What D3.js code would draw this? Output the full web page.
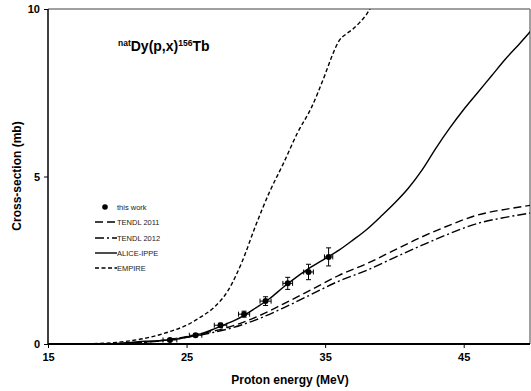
<!DOCTYPE html>
<html>
<head>
<meta charset="utf-8">
<script src="https://cdn.jsdelivr.net/npm/d3@7"></script>
<style>
  body { margin: 0; background: #fff; }
  svg { font-family: "Liberation Sans", Arial, sans-serif; }
</style>
</head>
<body>
<svg width="531" height="391"></svg>
<script>
// measured cross-sections (this work)
var expE   = [23.8, 25.65, 27.45, 29.15, 30.7, 32.3, 33.8, 35.25];
var expSig = [0.12, 0.26, 0.56, 0.89, 1.28, 1.81, 2.15, 2.6];
var expDE  = [0.5, 0.45, 0.45, 0.4, 0.4, 0.35, 0.35, 0.3];
var expDS  = [0.03, 0.04, 0.06, 0.09, 0.13, 0.18, 0.23, 0.27];

// model curves
var tendl11E   = [15, 20, 22, 24, 26, 28, 30, 32, 34, 36, 38, 40, 42, 44, 46, 48, 50];
var tendl11Sig = [0, 0.01, 0.05, 0.15, 0.3, 0.5, 0.8, 1.2, 1.62, 2.05, 2.4, 2.8, 3.2, 3.55, 3.85, 4.02, 4.15];
var tendl12E   = [15, 20, 22, 24, 26, 28, 30, 32, 34, 36, 38, 40, 42, 44, 46, 48, 50];
var tendl12Sig = [0, 0.01, 0.05, 0.14, 0.27, 0.45, 0.72, 1.08, 1.48, 1.88, 2.2, 2.58, 2.95, 3.3, 3.6, 3.78, 3.92];
var aliceE   = [15, 18, 20, 21, 22, 23, 24, 25, 26, 27, 28, 29, 30, 31, 32, 33, 34, 35, 36, 37, 38, 39, 40, 41, 42, 43, 44, 45, 46, 47, 48, 49, 50];
var aliceSig = [0, 0.005, 0.02, 0.05, 0.08, 0.1, 0.13, 0.2, 0.3, 0.45, 0.62, 0.82, 1.08, 1.36, 1.7, 2.02, 2.3, 2.55, 2.8, 3.1, 3.42, 3.8, 4.2, 4.65, 5.2, 5.85, 6.45, 7.0, 7.5, 8.0, 8.5, 8.95, 9.42];
var empireE   = [15, 18, 20, 21, 22, 23, 24, 25, 26, 27, 28, 29, 30, 31, 32, 33, 34, 35, 35.5, 36, 36.5, 37, 37.5, 38, 38.3];
var empireSig = [0, 0.01, 0.05, 0.1, 0.17, 0.27, 0.4, 0.56, 0.8, 1.1, 1.6, 2.45, 3.55, 4.55, 5.4, 6.3, 7.05, 8.05, 8.6, 9.05, 9.25, 9.4, 9.6, 9.85, 10.05];

var xTicks = [15, 25, 35, 45];
var yTicks = [0, 5, 10];

var svg = d3.select("svg");
var mLeft = 48, mRight = 533, mTop = 9, mBottom = 344, edge = 530;

var x = d3.scaleLinear().domain([15, 50]).range([mLeft, mRight]);
var y = d3.scaleLinear().domain([0, 10]).range([mBottom, mTop]);

svg.append("defs").append("clipPath").attr("id", "plotclip")
    .append("rect").attr("x", mLeft).attr("y", mTop)
    .attr("width", edge - mLeft).attr("height", mBottom - mTop);

// frame: top and right in grey
svg.append("line").attr("x1", mLeft).attr("x2", edge).attr("y1", mTop).attr("y2", mTop)
    .attr("stroke", "#808080").attr("stroke-width", 1.5);
svg.append("line").attr("x1", edge).attr("x2", edge).attr("y1", mTop).attr("y2", mBottom)
    .attr("stroke", "#808080").attr("stroke-width", 1.5);

// axes
var xAxis = svg.append("g").attr("transform", "translate(0," + mBottom + ")")
    .call(d3.axisBottom(x).tickValues(xTicks).tickSize(4).tickPadding(5).tickFormat(d3.format("d")));
var yAxis = svg.append("g").attr("transform", "translate(" + mLeft + ",0)")
    .call(d3.axisLeft(y).tickValues(yTicks).tickSize(4).tickPadding(4).tickFormat(d3.format("d")));
xAxis.select(".domain").attr("stroke", "#000").attr("stroke-width", 2).attr("d", "M" + mLeft + ",0H" + edge);
yAxis.select(".domain").attr("stroke", "#000").attr("stroke-width", 1.5).attr("d", "M0," + mBottom + "V" + mTop);
svg.selectAll(".tick text").attr("font-size", 11).attr("font-weight", "bold")
    .attr("font-family", "Liberation Sans, Arial, sans-serif").attr("fill", "#000");
svg.selectAll(".tick line").attr("stroke", "#000");

// axis titles
svg.append("text").attr("x", 290).attr("y", 384).attr("text-anchor", "middle")
    .attr("font-size", 12).attr("font-weight", "bold").text("Proton energy (MeV)");
svg.append("text").attr("transform", "translate(21,176) rotate(-90)").attr("text-anchor", "middle")
    .attr("font-size", 12).attr("font-weight", "bold").text("Cross-section (mb)");

// reaction label
var title = svg.append("text").attr("x", 118).attr("y", 51).attr("font-weight", "bold").attr("font-size", 14);
title.append("tspan").attr("font-size", 8.5).attr("dy", -5).text("nat");
title.append("tspan").attr("dy", 5).text("Dy(p,x)");
title.append("tspan").attr("font-size", 8.5).attr("dy", -5).text("156");
title.append("tspan").attr("dy", 5).text("Tb");

var line = d3.line()
    .x(function(d) { return x(d[0]); })
    .y(function(d) { return y(d[1]); })
    .curve(d3.curveMonotoneX);

var curves = [
    { name: "TENDL 2011", e: tendl11E, s: tendl11Sig, dash: "8,4" },
    { name: "TENDL 2012", e: tendl12E, s: tendl12Sig, dash: "9,3,2,3" },
    { name: "ALICE-IPPE", e: aliceE, s: aliceSig, dash: null },
    { name: "EMPIRE", e: empireE, s: empireSig, dash: "4,2.5" }
];

var plot = svg.append("g").attr("clip-path", "url(#plotclip)");
curves.forEach(function(c) {
    plot.append("path")
        .datum(d3.zip(c.e, c.s))
        .attr("d", line)
        .attr("fill", "none")
        .attr("stroke", "#000")
        .attr("stroke-width", 1.4)
        .attr("stroke-dasharray", c.dash);
});

// data points with error bars
var pts = svg.append("g");
var cap = 2.5;
expE.forEach(function(e, i) {
    var cx = x(e), cy = y(expSig[i]);
    var x0 = x(e - expDE[i]), x1 = x(e + expDE[i]);
    var y0 = y(expSig[i] - expDS[i]), y1 = y(expSig[i] + expDS[i]);
    var g = pts.append("g").attr("stroke", "#000").attr("stroke-width", 1);
    g.append("line").attr("x1", x0).attr("x2", x1).attr("y1", cy).attr("y2", cy);
    g.append("line").attr("x1", x0).attr("x2", x0).attr("y1", cy - cap).attr("y2", cy + cap);
    g.append("line").attr("x1", x1).attr("x2", x1).attr("y1", cy - cap).attr("y2", cy + cap);
    g.append("line").attr("x1", cx).attr("x2", cx).attr("y1", y0).attr("y2", y1);
    g.append("line").attr("x1", cx - cap).attr("x2", cx + cap).attr("y1", y0).attr("y2", y0);
    g.append("line").attr("x1", cx - cap).attr("x2", cx + cap).attr("y1", y1).attr("y2", y1);
    pts.append("circle").attr("cx", cx).attr("cy", cy).attr("r", 3).attr("fill", "#000");
});

// legend
var legend = svg.append("g").attr("font-size", 7.5).attr("fill", "#222");
var ly = [207, 222, 238, 253, 268];
legend.append("circle").attr("cx", 105).attr("cy", ly[0]).attr("r", 2.8).attr("fill", "#000");
legend.append("text").attr("x", 117).attr("y", ly[0] + 2.5).text("this work");
curves.forEach(function(c, i) {
    legend.append("line").attr("x1", 95).attr("x2", 117)
        .attr("y1", ly[i + 1]).attr("y2", ly[i + 1])
        .attr("stroke", "#000").attr("stroke-width", 1.4)
        .attr("stroke-dasharray", c.dash);
    legend.append("text").attr("x", 117).attr("y", ly[i + 1] + 2.5).text(c.name);
});
</script>
</body>
</html>
